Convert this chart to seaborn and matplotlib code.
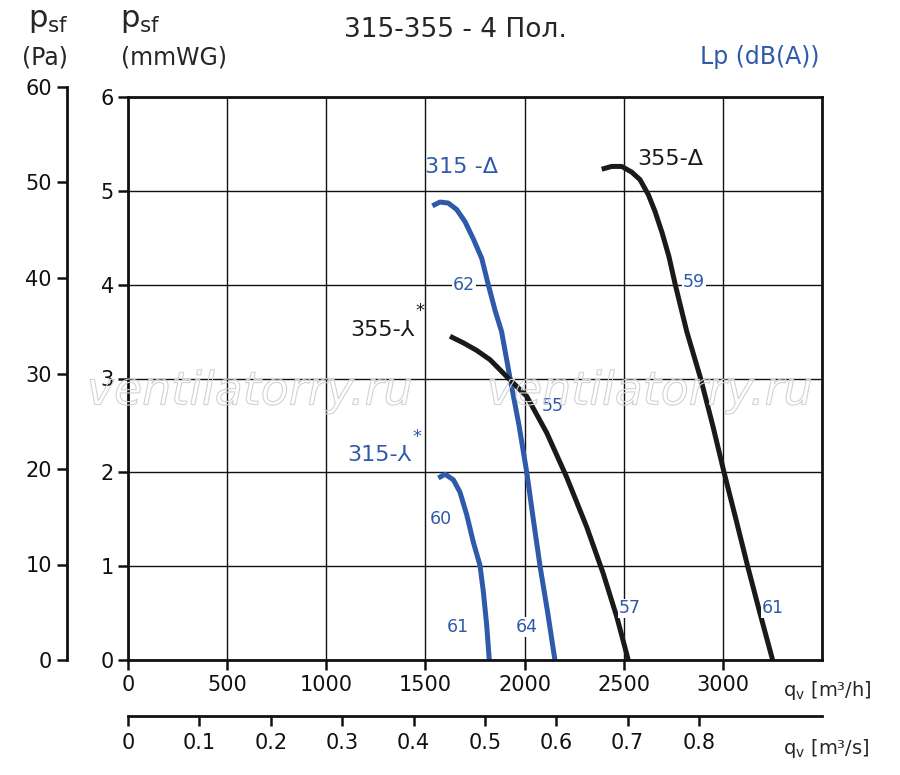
import matplotlib
matplotlib.use("Agg")
import matplotlib.pyplot as plt
import matplotlib.patheffects as pe
import pandas as pd
import seaborn as sns

sns.set_style("white")
plt.rcParams["font.family"] = ["DejaVu Sans", "Noto Sans CJK SC"]
plt.rcParams["mathtext.default"] = "regular"
plt.rcParams["xtick.bottom"] = True
plt.rcParams["ytick.left"] = True

BLUE = "#2e5aa9"
INK = "#1a1a1a"

# fan curves: q_v in m3/h, p_sf in mmWG
q_315_delta = [1535, 1573, 1615, 1658, 1700, 1741, 1784, 1817, 1852, 1884,
               1927, 1972, 2011, 2044, 2078, 2117, 2153]
p_315_delta = [4.84, 4.88, 4.87, 4.80, 4.67, 4.49, 4.28, 4.00, 3.72, 3.50,
               3.00, 2.50, 2.00, 1.50, 1.00, 0.50, 0.0]

q_315_star = [1565, 1599, 1641, 1674, 1708, 1741, 1775, 1792, 1809, 1822]
p_315_star = [1.94, 1.98, 1.92, 1.79, 1.55, 1.26, 1.01, 0.73, 0.37, 0.0]

q_355_star = [1624, 1691, 1758, 1826, 1910, 2011, 2112, 2212, 2313, 2397, 2465, 2523]
p_355_star = [3.45, 3.38, 3.30, 3.20, 3.02, 2.81, 2.42, 1.95, 1.42, 0.92, 0.46, 0.0]

q_355_delta = [2389, 2439, 2490, 2540, 2582, 2624, 2658, 2694, 2728, 2760,
               2818, 2888, 2949, 3006, 3066, 3125, 3187, 3251]
p_355_delta = [5.23, 5.26, 5.26, 5.20, 5.12, 4.96, 4.78, 4.55, 4.30, 4.00,
               3.50, 3.00, 2.50, 2.00, 1.50, 1.00, 0.50, 0.0]

# sound level labels Lp dB(A): value, q, p
lp_values = ["62", "55", "60", "61", "64", "57", "59", "61"]
lp_q = [1694, 2143, 1579, 1664, 2012, 2532, 2854, 3253]
lp_p = [4.00, 2.71, 1.50, 0.35, 0.35, 0.55, 4.03, 0.55]

x_ticks = [0, 500, 1000, 1500, 2000, 2500, 3000]
y_ticks = [0, 1, 2, 3, 4, 5, 6]
pa_ticks = [0, 10, 20, 30, 40, 50, 60]
m3s_ticks = [0, 0.1, 0.2, 0.3, 0.4, 0.5, 0.6, 0.7, 0.8]
m3s_labels = ["0", "0.1", "0.2", "0.3", "0.4", "0.5", "0.6", "0.7", "0.8"]

curves = [
    ("315-Δ", q_315_delta, p_315_delta),
    ("315-Y", q_315_star, p_315_star),
    ("355-Y", q_355_star, p_355_star),
    ("355-Δ", q_355_delta, p_355_delta),
]
frames = []
for name, q, p in curves:
    frames.append(pd.DataFrame({"curve": name, "q": q, "p": p}))
data = pd.concat(frames, ignore_index=True)
palette = {"315-Δ": BLUE, "315-Y": BLUE, "355-Y": INK, "355-Δ": INK}

fig = plt.figure(figsize=(9, 7.75), dpi=100)
W, H = 900, 775
ax = fig.add_axes([128 / W, 1 - 660 / H, 694 / W, 563 / H])

sns.lineplot(data=data, x="q", y="p", hue="curve", palette=palette,
             sort=False, estimator=None, linewidth=3.6, legend=False,
             solid_capstyle="butt", solid_joinstyle="round", ax=ax)

ax.set_xlim(0, 3500)
ax.set_ylim(0, 6)
ax.set_xticks(x_ticks)
ax.set_yticks(y_ticks)
ax.grid(True, color="#111111", linewidth=1.0)
ax.set_axisbelow(True)
ax.set_xlabel("")
ax.set_ylabel("")
for s in ax.spines.values():
    s.set_linewidth(2.0)
    s.set_color("#111111")
ax.xaxis.set_ticks_position("bottom")
ax.yaxis.set_ticks_position("left")
ax.tick_params(axis="x", direction="out", length=7, width=1.8, labelsize=15,
               color="#111111", labelcolor="#111111", bottom=True, pad=4)
ax.tick_params(axis="y", direction="out", length=7, width=1.8, labelsize=15,
               color="#111111", labelcolor="#111111", left=True, pad=3)

# m3/s axis under the plot
sec = ax.secondary_xaxis(-0.0995, functions=(lambda x: x / 3600, lambda x: x * 3600))
sec.set_xticks(m3s_ticks, labels=m3s_labels)
sec.spines["bottom"].set_linewidth(2.0)
sec.spines["bottom"].set_color("#111111")
sec.tick_params(direction="out", length=7, width=1.8, labelsize=15, pad=5,
                bottom=True, color="#111111", labelcolor="#111111")

# Pa axis on the far left
ax_pa = fig.add_axes([67 / W, 1 - 660 / H, 0.0005, 573 / H])
ax_pa.set_ylim(0, 60)
ax_pa.set_yticks(pa_ticks)
ax_pa.set_xticks([])
ax_pa.patch.set_visible(False)
for side in ["top", "right", "bottom"]:
    ax_pa.spines[side].set_visible(False)
ax_pa.spines["left"].set_linewidth(2.0)
ax_pa.spines["left"].set_color("#111111")
ax_pa.tick_params(axis="y", direction="out", length=7, width=1.8,
                  labelsize=15, pad=4, left=True, color="#111111",
                  labelcolor="#111111")

# watermark
for cx in [250, 650]:
    fig.text(cx / W, 1 - 392 / H, "ventilatorry.ru", fontsize=33,
             style="italic", ha="center", va="center", color=(1, 1, 1, 0),
             path_effects=[pe.Stroke(linewidth=0.8, foreground="#d2d2d2")])

# curve names
ax.text(1684, 5.25, "315 -Δ", color=BLUE, fontsize=16, ha="center", va="center")
ax.text(2733, 5.34, "355-Δ", color=INK, fontsize=16, ha="center", va="center")
ax.text(1447, 3.52, "355-⅄", color=INK, fontsize=16, ha="right", va="center")
ax.text(1452, 3.72, "*", color=INK, fontsize=13, ha="left", va="center")
ax.text(1432, 2.18, "315-⅄", color=BLUE, fontsize=16, ha="right", va="center")
ax.text(1437, 2.38, "*", color=BLUE, fontsize=13, ha="left", va="center")

for v, q, p in zip(lp_values, lp_q, lp_p):
    ax.text(q, p, v, color=BLUE, fontsize=12.5, ha="center", va="center",
            bbox=dict(boxstyle="square,pad=0.05", fc="white", ec="none"))

# headings
fig.text(455 / W, 1 - 30 / H, "315-355 - 4 Пол.", fontsize=19, ha="center", va="center")
fig.text(760 / W, 1 - 57 / H, "Lp (dB(A))", fontsize=17, ha="center", va="center", color=BLUE)
fig.text(48 / W, 1 - 27 / H, r"p$_{sf}$", fontsize=22, ha="center", va="baseline")
fig.text(45 / W, 1 - 57 / H, "(Pa)", fontsize=17, ha="center", va="center")
fig.text(140 / W, 1 - 27 / H, r"p$_{sf}$", fontsize=22, ha="center", va="baseline")
fig.text(174 / W, 1 - 57 / H, "(mmWG)", fontsize=17, ha="center", va="center")
fig.text(783 / W, 1 - 690 / H, r"q$_{v}$ [m³/h]", fontsize=14, ha="left", va="center")
fig.text(783 / W, 1 - 748 / H, r"q$_{v}$ [m³/s]", fontsize=14, ha="left", va="center")

fig.savefig("out.png", dpi=100)
